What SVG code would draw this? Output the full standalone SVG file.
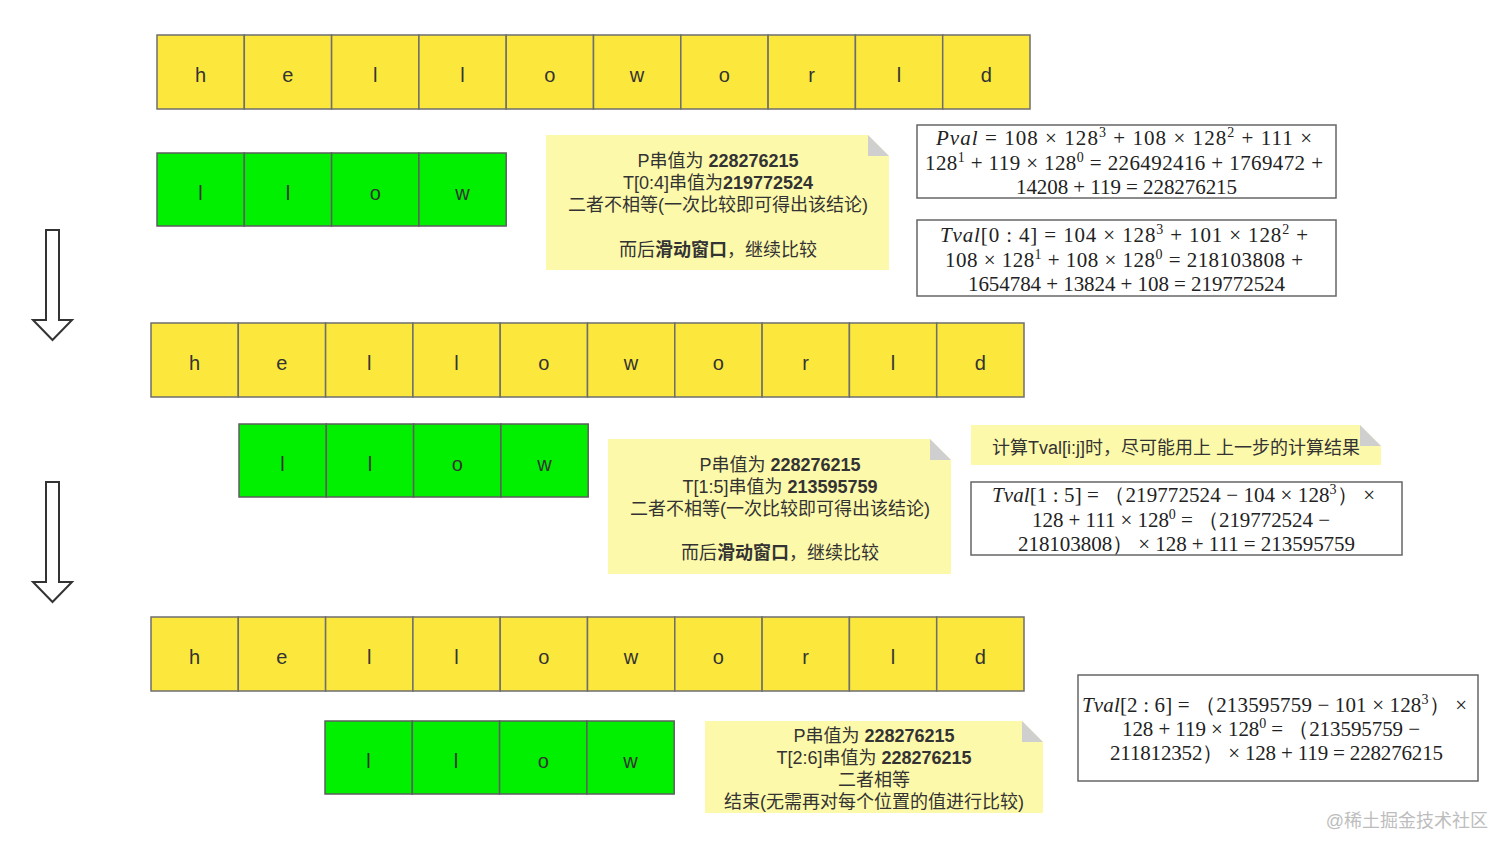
<svg xmlns="http://www.w3.org/2000/svg" width="1512" height="854" viewBox="0 0 1512 854">
<style>
.y{fill:#fce83c;stroke:#6e6e6e;stroke-width:1.5}
.g{fill:#00f000;stroke:#5e5e5e;stroke-width:1.5}
.c{font-family:"Liberation Sans","Noto Sans CJK SC",sans-serif;font-size:20px;fill:#333;text-anchor:middle}
.note{fill:#fdf9aa}
.fold{fill:#cfcfcf}
.nt{font-family:"Liberation Sans","Noto Sans CJK SC",sans-serif;font-size:18px;fill:#333;text-anchor:middle}
.b{font-weight:bold}
.fb{fill:#fff;stroke:#666;stroke-width:1.5}
.m{font-family:"Liberation Serif","DejaVu Serif",serif;font-size:21px;fill:#222}
.s{font-size:14px}
.i{font-style:italic}
.arrow{fill:#fff;stroke:#333;stroke-width:2}
.wm{font-family:"Liberation Sans","Noto Sans CJK SC",sans-serif;font-size:18px;fill:#bdbdbd;text-anchor:end}
</style>
<defs>
<g id="yrow">
<rect class="y" x="0" y="0" width="87.3" height="74"/><rect class="y" x="87.3" y="0" width="87.3" height="74"/><rect class="y" x="174.6" y="0" width="87.3" height="74"/><rect class="y" x="261.9" y="0" width="87.3" height="74"/><rect class="y" x="349.2" y="0" width="87.3" height="74"/><rect class="y" x="436.5" y="0" width="87.3" height="74"/><rect class="y" x="523.8" y="0" width="87.3" height="74"/><rect class="y" x="611.1" y="0" width="87.3" height="74"/><rect class="y" x="698.4" y="0" width="87.3" height="74"/><rect class="y" x="785.7" y="0" width="87.3" height="74"/>
<text class="c" x="43.6" y="47">h</text><text class="c" x="130.9" y="47">e</text><text class="c" x="218.2" y="47">l</text><text class="c" x="305.5" y="47">l</text><text class="c" x="392.8" y="47">o</text><text class="c" x="480.1" y="47">w</text><text class="c" x="567.4" y="47">o</text><text class="c" x="654.7" y="47">r</text><text class="c" x="742" y="47">l</text><text class="c" x="829.3" y="47">d</text>
</g>
<g id="grow">
<rect class="g" x="0" y="0" width="87.3" height="73"/><rect class="g" x="87.3" y="0" width="87.3" height="73"/><rect class="g" x="174.6" y="0" width="87.3" height="73"/><rect class="g" x="261.9" y="0" width="87.3" height="73"/>
<text class="c" x="43.6" y="47">l</text><text class="c" x="130.9" y="47">l</text><text class="c" x="218.2" y="47">o</text><text class="c" x="305.5" y="47">w</text>
</g>
</defs>

<g id="text-row-1"><use href="#yrow" x="157" y="35"/></g>
<g id="pattern-row-1"><use href="#grow" x="157" y="153"/></g>
<g id="text-row-2"><use href="#yrow" x="151" y="323"/></g>
<g id="pattern-row-2"><use href="#grow" x="239" y="424"/></g>
<g id="text-row-3"><use href="#yrow" x="151" y="617"/></g>
<g id="pattern-row-3"><use href="#grow" x="325" y="721"/></g>

<g id="note-1">
<polygon class="note" points="546,135 868,135 889,156 889,270 546,270"/>
<polygon class="fold" points="868,135 868,156 889,156"/>
<text class="nt" x="718" y="167">P串值为 <tspan class="b">228276215</tspan></text>
<text class="nt" x="718" y="189">T[0:4]串值为<tspan class="b">219772524</tspan></text>
<text class="nt" x="718" y="211">二者不相等(一次比较即可得出该结论)</text>
<text class="nt" x="718" y="256">而后<tspan class="b">滑动窗口</tspan>，继续比较</text>
</g>

<g id="note-2">
<polygon class="note" points="608,439 930,439 951,460 951,574 608,574"/>
<polygon class="fold" points="930,439 930,460 951,460"/>
<text class="nt" x="780" y="471">P串值为 <tspan class="b">228276215</tspan></text>
<text class="nt" x="780" y="493">T[1:5]串值为 <tspan class="b">213595759</tspan></text>
<text class="nt" x="780" y="515">二者不相等(一次比较即可得出该结论)</text>
<text class="nt" x="780" y="559">而后<tspan class="b">滑动窗口</tspan>，继续比较</text>
</g>

<g id="note-3">
<polygon class="note" points="705,721 1022,721 1043,742 1043,813 705,813"/>
<polygon class="fold" points="1022,721 1022,742 1043,742"/>
<text class="nt" x="874" y="742">P串值为 <tspan class="b">228276215</tspan></text>
<text class="nt" x="874" y="764">T[2:6]串值为 <tspan class="b">228276215</tspan></text>
<text class="nt" x="874" y="786">二者相等</text>
<text class="nt" x="874" y="808">结束(无需再对每个位置的值进行比较)</text>
</g>

<g id="hint">
<polygon class="note" points="971,425 1360,425 1381,446 1381,465 971,465"/>
<polygon class="fold" points="1360,425 1360,446 1381,446"/>
<text class="nt" x="1176" y="454">计算Tval[i:j]时，尽可能用上 上一步的计算结果</text>
</g>

<g id="formula-pval">
<rect class="fb" x="917" y="125" width="419" height="73"/>
<text class="m" x="936" y="145" textLength="376" lengthAdjust="spacing"><tspan class="i">Pval</tspan> = 108 × 128<tspan class="s" dy="-8">3</tspan><tspan dy="8"> +   108 × 128</tspan><tspan class="s" dy="-8">2</tspan><tspan dy="8">   + 111 ×</tspan></text>
<text class="m" x="925" y="170" textLength="398" lengthAdjust="spacing">128<tspan class="s" dy="-8">1</tspan><tspan dy="8"> + 119 ×   128</tspan><tspan class="s" dy="-8">0</tspan><tspan dy="8"> = 226492416 + 1769472 +</tspan></text>
<text class="m" x="1016" y="194" textLength="221" lengthAdjust="spacing">14208 + 119 = 228276215</text>
</g>

<g id="formula-tval-0-4">
<rect class="fb" x="917" y="220" width="419" height="76"/>
<text class="m" x="940" y="242" textLength="368" lengthAdjust="spacing"><tspan class="i">Tval</tspan>[0 : 4] = 104 × 128<tspan class="s" dy="-8">3</tspan><tspan dy="8"> +   101 × 128</tspan><tspan class="s" dy="-8">2</tspan><tspan dy="8">   +</tspan></text>
<text class="m" x="945" y="267" textLength="358" lengthAdjust="spacing">108 × 128<tspan class="s" dy="-8">1</tspan><tspan dy="8"> + 108 ×   128</tspan><tspan class="s" dy="-8">0</tspan><tspan dy="8"> = 218103808 +</tspan></text>
<text class="m" x="968" y="291" textLength="317" lengthAdjust="spacing">1654784 + 13824 + 108 = 219772524</text>
</g>

<g id="formula-tval-1-5">
<rect class="fb" x="971" y="482" width="431" height="73"/>
<text class="m" x="992" y="502" textLength="383" lengthAdjust="spacing"><tspan class="i">Tval</tspan>[1 : 5] =  （219772524 − 104 × 128<tspan class="s" dy="-8">3</tspan><tspan dy="8">）  ×</tspan></text>
<text class="m" x="1032" y="527" textLength="298" lengthAdjust="spacing">128 + 111 × 128<tspan class="s" dy="-8">0</tspan><tspan dy="8"> =  （219772524 −</tspan></text>
<text class="m" x="1018" y="551" textLength="337" lengthAdjust="spacing">218103808）  × 128 + 111 = 213595759</text>
</g>

<g id="formula-tval-2-6">
<rect class="fb" x="1078" y="675" width="400" height="106"/>
<text class="m" x="1082" y="712" textLength="385" lengthAdjust="spacing"><tspan class="i">Tval</tspan>[2 : 6] =  （213595759 − 101 × 128<tspan class="s" dy="-8">3</tspan><tspan dy="8">）  ×</tspan></text>
<text class="m" x="1122" y="736" textLength="298" lengthAdjust="spacing">128 + 119 × 128<tspan class="s" dy="-8">0</tspan><tspan dy="8"> =  （213595759 −</tspan></text>
<text class="m" x="1110" y="760" textLength="333" lengthAdjust="spacing">211812352）  × 128 + 119 = 228276215</text>
</g>

<g id="connectors">
<polygon class="arrow" points="46,230 59,230 59,320 72,320 52.5,340 33,320 46,320"/>
<polygon class="arrow" points="46,482 59,482 59,582 72,582 52.5,602 33,582 46,582"/>
</g>

<text class="wm" x="1488" y="827">@稀土掘金技术社区</text>
</svg>
